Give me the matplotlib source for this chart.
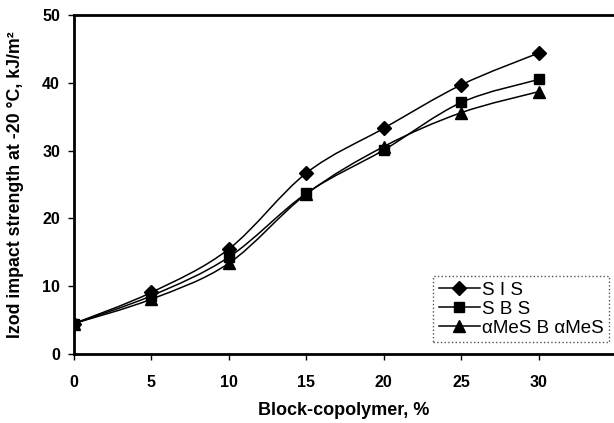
import numpy as np
import matplotlib
matplotlib.use("Agg")
import matplotlib.pyplot as plt
from matplotlib.path import Path
from matplotlib.patches import PathPatch

# block-copolymer content, % and Izod impact strength at -20 C, kJ/m2
content = [0, 5, 10, 15, 20, 25, 30]
sis = [4.5, 9.1, 15.5, 26.7, 33.3, 39.7, 44.4]
sbs = [4.5, 8.6, 14.3, 23.7, 30.1, 37.1, 40.5]
ames = [4.5, 8.1, 13.4, 23.6, 30.6, 35.6, 38.7]

series = [("S I S", sis, "D", 7), ("S B S", sbs, "s", 7), ("\u03b1MeS B \u03b1MeS", ames, "^", 8)]

plt.rcParams['font.family'] = ['Liberation Sans', 'DejaVu Sans']


def smooth_path(x, y, t=1.0 / 6):
    # cubic bezier through every point, tangents from the neighbours
    x = np.asarray(x, float)
    y = np.asarray(y, float)
    verts = [(x[0], y[0])]
    codes = [Path.MOVETO]
    n = len(x)
    for i in range(n - 1):
        p0 = (x[max(i - 1, 0)], y[max(i - 1, 0)])
        p1 = (x[i], y[i])
        p2 = (x[i + 1], y[i + 1])
        p3 = (x[min(i + 2, n - 1)], y[min(i + 2, n - 1)])
        c1 = (p1[0] + (p2[0] - p0[0]) * t, p1[1] + (p2[1] - p0[1]) * t)
        c2 = (p2[0] - (p3[0] - p1[0]) * t, p2[1] - (p3[1] - p1[1]) * t)
        verts += [c1, c2, p2]
        codes += [Path.CURVE4] * 3
    return Path(verts, codes)


fig = plt.figure(figsize=(6.14, 4.23), dpi=100)
ax = fig.add_axes([0.1205, 0.163, 0.878, 0.8015])

for label, vals, mk, ms in series:
    ax.add_patch(PathPatch(smooth_path(content, vals), facecolor='none',
                           edgecolor='black', lw=1.1))
    ax.plot(content, vals, linestyle='none', marker=mk, ms=ms, color='black')
    # legend proxy
    ax.plot([], [], '-', marker=mk, ms=ms, color='black', lw=1.1, label=label)

ax.set_xlim(0, 34.8)
ax.set_ylim(0, 50)
ax.set_xticks(content)
ax.set_yticks([0, 10, 20, 30, 40, 50])

for side in ['left', 'bottom', 'top']:
    ax.spines[side].set_linewidth(2.0)
ax.spines['right'].set_visible(False)

ax.tick_params(axis='both', direction='out', length=4, width=1, labelsize=11.5)
ax.tick_params(axis='x', pad=11)
ax.tick_params(axis='y', pad=6)
for lbl in ax.get_xticklabels() + ax.get_yticklabels():
    lbl.set_fontweight('bold')

ax.set_xlabel("Block-copolymer, %", fontsize=13, fontweight='bold', labelpad=9)
ax.set_ylabel("Izod impact strength at -20 \u00b0C, kJ/m\u00b2", fontsize=12.8,
              fontweight='bold', labelpad=13)

leg = ax.legend(loc='lower right', bbox_to_anchor=(0.993, 0.035), borderaxespad=0,
                fontsize=13.5, handlelength=2.2, handletextpad=0.1, borderpad=0.3,
                labelspacing=0.1, fancybox=False, framealpha=1)
leg.get_frame().set_edgecolor('#555555')
leg.get_frame().set_linestyle(':')
leg.get_frame().set_linewidth(1.0)

fig.savefig("out.png", dpi=100)
